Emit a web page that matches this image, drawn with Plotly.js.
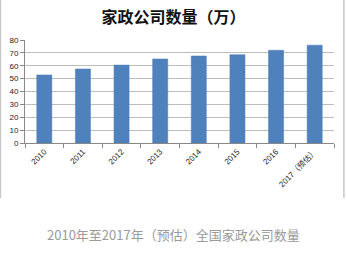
<!DOCTYPE html>
<html>
<head>
<meta charset="utf-8">
<script src="https://cdn.plot.ly/plotly-3.0.1.min.js"></script>
<style>html,body{margin:0;padding:0;background:#fff;}#chart{width:347px;height:255px;}</style>
</head>
<body>
<div id="chart"></div>
<script>
var categories = ['2010', '2011', '2012', '2013', '2014', '2015', '2016', '2017（预估）'];
var values = [52.9, 57.5, 60.5, 65.3, 67.6, 68.6, 72, 76];
var chartTitle = '家政公司数量（万）';
var caption = '2010年至2017年（预估）全国家政公司数量';

var trace = {
  type: 'bar',
  x: categories,
  y: values,
  marker: {color: '#4f81bd', line: {color: '#4a7ab5', width: 0.5}},
  hoverinfo: 'x+y'
};

var layout = {
  width: 347,
  height: 255,
  margin: {l: 25, r: 13, t: 40, b: 112},
  paper_bgcolor: '#ffffff',
  plot_bgcolor: '#ffffff',
  showlegend: false,
  bargap: 0.61,
  font: {family: 'Liberation Sans, Arial, sans-serif', color: '#222'},
  title: {
    text: chartTitle,
    font: {family: 'Noto Sans CJK SC', size: 16, color: '#111', weight: 'bold'},
    x: 0.5, xanchor: 'center', xref: 'container',
    y: 0.933, yanchor: 'middle', yref: 'container'
  },
  xaxis: {
    type: 'category',
    tickangle: -45,
    tickson: 'boundaries',
    ticks: 'outside',
    ticklen: 4,
    tickcolor: '#888',
    showline: true,
    linecolor: '#888',
    linewidth: 1,
    showgrid: false,
    tickfont: {size: 8, family: 'Liberation Sans, Noto Sans CJK SC, sans-serif', color: '#222'}
  },
  yaxis: {
    range: [0, 80],
    dtick: 10,
    ticks: 'outside',
    ticklen: 4,
    tickcolor: '#888',
    showline: true,
    linecolor: '#888',
    linewidth: 1,
    gridcolor: '#bdbdbd',
    gridwidth: 1,
    zeroline: false,
    tickfont: {size: 8, color: '#222'}
  },
  annotations: [{
    text: caption,
    xref: 'paper', yref: 'paper',
    x: 0.479, y: -0.893,
    xanchor: 'center', yanchor: 'middle',
    showarrow: false,
    font: {family: 'Noto Sans CJK SC', size: 13, color: '#9a9a9a'}
  }],
  shapes: [
    {type: 'line', xref: 'paper', yref: 'paper', x0: -0.0793, x1: -0.0793, y0: -0.534, y1: 1.39, line: {color: '#c8c8c8', width: 1.5}},
    {type: 'line', xref: 'paper', yref: 'paper', x0: 1.032, x1: 1.032, y0: -0.534, y1: 1.39, line: {color: '#c8c8c8', width: 1.5}}
  ]
};

Plotly.newPlot('chart', [trace], layout, {displayModeBar: false, staticPlot: true});
</script>
</body>
</html>
